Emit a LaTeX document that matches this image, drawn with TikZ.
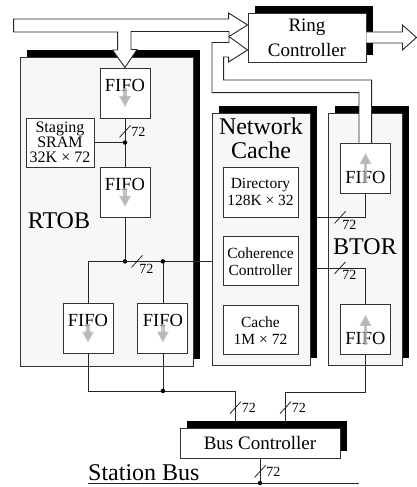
\documentclass[tikz,border=0pt]{standalone}
\usepackage{fontspec}
\setmainfont{Liberation Serif}
\usetikzlibrary{arrows.meta, positioning, shadows, calc}

\begin{document}
\begin{tikzpicture}[
    x=1pt, y=-1pt,
    node distance=19pt,
    panel/.style={draw=black!80, fill=black!3, line width=0.9pt, inner sep=0pt, drop shadow={shadow xshift=7pt, shadow yshift=7pt, fill=black, opacity=1}},
    box/.style={draw=black!80, fill=white, line width=0.9pt, inner sep=0pt, align=center},
    ctrl/.style={box, drop shadow={shadow xshift=7pt, shadow yshift=7pt, fill=black, opacity=1}, font=\fontsize{19}{25}\selectfont},
    fifo/.style={draw=black!80, fill=white, line width=0.9pt, inner sep=0pt, minimum width=50pt, minimum height=50pt, font=\fontsize{18.5}{20}\selectfont},
    fifodown/.style={fifo, text height=13pt, text depth=17pt},
    fifoup/.style={fifo, text height=30pt, text depth=0pt},
    mem/.style={box, minimum width=75pt, minimum height=49pt, font=\fontsize{15.5}{17}\selectfont},
    title/.style={inner sep=0pt, align=center, font=\fontsize{24}{24}\selectfont},
    wlabel/.style={inner sep=1pt, font=\fontsize{14}{14}\selectfont},
    dot/.style={circle, fill=black, inner sep=0pt, minimum size=4.5pt},
    bus/.style={draw=black!85, line width=0.8pt},
    wide/.style={draw=black!85, fill=white, line width=0.9pt, line join=miter},
    flow/.style={draw=black!30, opacity=0.8, line width=3.5pt, -{Triangle[width=11pt, length=11pt]}}
]
    \useasboundingbox (0,0) rectangle (417,487);

    % Panels
    \node[panel, minimum width=173pt, minimum height=309pt] (rtob) at (106.5,211.5) {};
    \node[panel, minimum width=98pt, minimum height=252pt] (nc) at (261,239) {};
    \node[panel, minimum width=74pt, minimum height=252pt] (btor) at (365,239) {};
    \node[title] (rtoblbl) at (59,221) {RTOB};
    \node[title] (nclbl) at (261,138) {Network\\Cache};
    \node[title] (btorlbl) at (365,247) {BTOR};

    % Controllers
    \node[ctrl, minimum width=118pt, minimum height=49pt] (ring) at (307,37.5) {Ring\\Controller};
    \node[ctrl, minimum width=160pt, minimum height=30pt] (bc) at (260,443) {Bus Controller};

    % RTOB
    \node[fifodown] (f1) at (125,93) {FIFO};
    \node[fifodown, below=49pt of f1] (f2) {FIFO};
    \node[box, minimum width=68pt, minimum height=49pt, font=\fontsize{16}{15}\selectfont] (sram) at (60,142.5) {Staging\\SRAM\\32K × 72};
    \node[fifodown] (f3) at (88,328.5) {FIFO};
    \node[fifodown, right=24pt of f3] (f4) {FIFO};

    % Network cache
    \node[mem, minimum height=50pt] (dir) at (260.5,192) {Directory\\128K × 32};
    \node[mem, below=of dir] (coh) {Coherence\\Controller};
    \node[mem, below=of coh] (cache) {Cache\\1M × 72};

    % BTOR
    \node[fifoup] (bf1) at (365.5,168) {FIFO};
    \node[fifoup, below=111pt of bf1] (bf2) {FIFO};

    % Flow arrows in the FIFOs
    \foreach \f in {f1, f2, f3, f4}
        \draw[flow] ($(\f.center)+(0,-5)$) -- ($(\f.center)+(0,14)$);
    \foreach \f in {bf1, bf2}
        \draw[flow] ($(\f.center)+(0,15)$) -- ($(\f.center)+(0,-15)$);

    % Lines
    \coordinate (bc1) at ($(bc.north west)+(56,-6)$);
    \coordinate (bc2) at ($(bc.north west)+(106,-6)$);
    \coordinate (btin) at ($(nc.east |- coh.east)+(7,6.5)$);

    \draw[bus] (f1) -- (f2);
    \draw[bus] ($(f1.south)+(-5.5,19)$) -- ++(11,-12) node[wlabel, midway, anchor=west, xshift=5pt] {72};
    \draw[bus] (sram.east) -- (sram.east -| f1.south) node[dot] (d1) {};
    \draw[bus] (f2.south) -- (f2.south |- coh.west) node[dot] (d2) {};
    \draw[bus] (f3.north) |- (nc.west |- coh.west);
    \draw[bus] (f4.north) -- (f4.north |- coh.west) node[dot] (d3) {};
    \draw[bus] ($(d2)+(6.5,6)$) -- ++(11,-12) node[wlabel, midway, anchor=north west, xshift=1pt, yshift=-1pt] {72};

    \draw[bus] (f3.south) -- ++(0,37) -| (bc1);
    \draw[bus] (f4.south) -- ++(0,37) node[dot] (d4) {};
    \draw[bus] (bf2.south) -- ++(0,37) -| (bc2);
    \draw[bus] ($(bc1)+(-5.5,-8)$) -- ++(11,-12) node[wlabel, midway, anchor=west, xshift=5pt] {72};
    \draw[bus] ($(bc2)+(-5.5,-8)$) -- ++(11,-12) node[wlabel, midway, anchor=west, xshift=5pt] {72};

    \draw[bus] (bf1.south) |- ($(nc.east |- dir.south)+(7,0)$);
    \draw[bus] ($(bf1.south |- dir.south)+(-31,6)$) -- ++(11,-12) node[wlabel, midway, anchor=north west, xshift=1pt, yshift=-1pt] {72};
    \draw[bus] (btin) -| (bf2.north);
    \draw[bus] ($(bf1.south |- btin)+(-31,6)$) -- ++(11,-12) node[wlabel, midway, anchor=north west, xshift=1pt, yshift=-1pt] {72};

    % Station bus
    \node[anchor=base west, inner sep=0pt, font=\fontsize{24}{24}\selectfont] (sbus) at (88,480) {Station Bus};
    \coordinate (sbl) at ($(sbus.base west)+(0,3)$);
    \draw[bus] (sbl) -- ++(271,0);
    \draw[bus] (bc.south) -- (bc.south |- sbl) node[dot] (d5) {};
    \draw[bus] ($(bc.south)+(-5.5,19)$) -- ++(11,-12) node[wlabel, midway, anchor=west, xshift=5pt] {72};

    % Ring paths
    \coordinate (ringin1) at ($(ring.west)+(0,-12.5)$);
    \coordinate (ringin2) at ($(ring.west)+(0,12.5)$);
    \draw[wide] (f1.north) -- ++(12,-18) -- ++(-6,0) -- ++(0,-18) -- ++(98,0) -- ++(0,5) -- (ringin1)
        -- ++(-19,-12) -- ++(0,6) -- ++(-215,0) -- ++(0,13) -- ++(104,0) -- ++(0,18) -- ++(-5,0) -- cycle;
    \draw[wide] ($(bf1.north)+(-6.5,0)$) -- ++(0,-50) -- ++(-147,0) -- ++(0,-50) -- ++(17,0) -- ++(0,-6) -- (ringin2)
        -- ++(-19,12) -- ++(0,-5) -- ++(-5,0) -- ++(0,23) -- ++(148,0) -- ++(0,63);
    \draw[wide] ([yshift=5.5pt]ring.east) -- ++(36,0) -- ++(0,-7) -- ++(14,12.5) -- ++(-14,12.5) -- ++(0,-7) -- ++(-36,0);

\end{tikzpicture}
\end{document}
